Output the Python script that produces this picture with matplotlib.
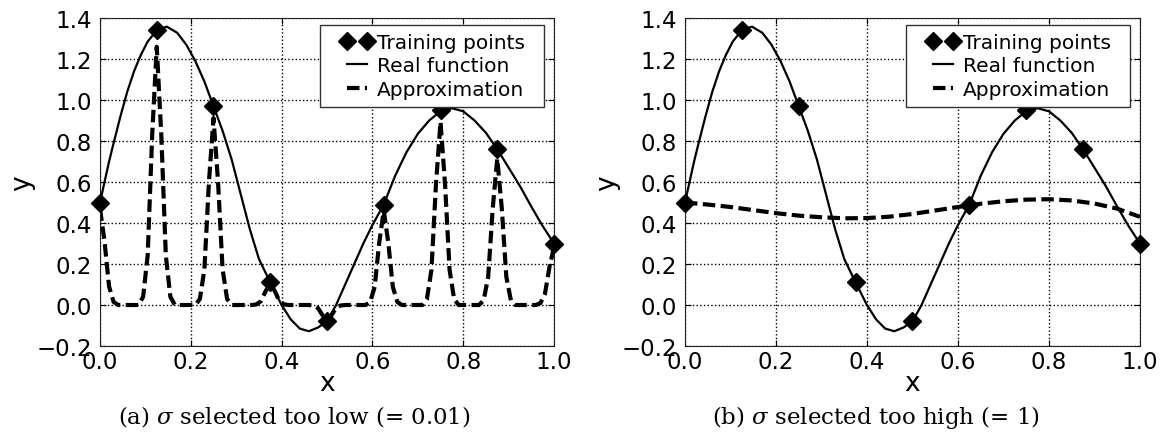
import numpy as np
import matplotlib
matplotlib.use("Agg")
import matplotlib.pyplot as plt
from matplotlib.patches import Rectangle
from matplotlib.transforms import IdentityTransform

# training samples
train_x = [0.0, 0.125, 0.25, 0.375, 0.5, 0.625, 0.75, 0.875, 1.0]
train_y = [0.50, 1.34, 0.97, 0.11, -0.08, 0.49, 0.95, 0.76, 0.30]

# real function, sampled
real_x = [0.000, 0.010, 0.020, 0.030, 0.045, 0.060, 0.075, 0.090, 0.105, 0.125,
          0.147, 0.170, 0.190, 0.210, 0.230, 0.250, 0.270, 0.290, 0.310, 0.330,
          0.350, 0.375, 0.400, 0.420, 0.440, 0.460, 0.480, 0.500, 0.520, 0.540,
          0.560, 0.580, 0.600, 0.625, 0.650, 0.675, 0.700, 0.725, 0.750, 0.775,
          0.800, 0.825, 0.850, 0.875, 0.900, 0.925, 0.950, 0.975, 1.000]
real_y = [0.500, 0.600, 0.700, 0.790, 0.920, 1.040, 1.140, 1.220, 1.285, 1.340,
          1.358, 1.328, 1.270, 1.190, 1.090, 0.970, 0.850, 0.710, 0.540, 0.370,
          0.225, 0.110, 0.000, -0.070, -0.115, -0.128, -0.110, -0.080, 0.000, 0.100,
          0.200, 0.300, 0.390, 0.490, 0.630, 0.745, 0.835, 0.900, 0.945, 0.960,
          0.945, 0.900, 0.840, 0.760, 0.670, 0.580, 0.480, 0.385, 0.300]

# sigma = 0.01: each training point gives a narrow bump
bump_offset = [-0.04, -0.03, -0.02, -0.01, 0.0, 0.01, 0.02, 0.03, 0.04]
bump_height = [0.0, 0.03, 0.18, 0.62, 0.94, 0.62, 0.18, 0.03, 0.0]

# sigma = 1: almost flat
wide_x = [0.0, 0.05, 0.1, 0.15, 0.2, 0.25, 0.3, 0.35, 0.4, 0.45, 0.5,
          0.55, 0.6, 0.65, 0.7, 0.75, 0.8, 0.85, 0.9, 0.95, 1.0]
wide_y = [0.500, 0.490, 0.478, 0.463, 0.448, 0.436, 0.428, 0.423, 0.424, 0.431, 0.444,
          0.461, 0.478, 0.494, 0.506, 0.514, 0.516, 0.510, 0.495, 0.470, 0.430]

captions = [r"(a) $\sigma$ selected too low (= 0.01)",
            r"(b) $\sigma$ selected too high (= 1)"]

narrow_x, narrow_y = [], []
for c, h in zip(train_x, train_y):
    for o, r in zip(bump_offset, bump_height):
        if 0.0 <= c + o <= 1.0:
            narrow_x.append(c + o)
            narrow_y.append(h * r)

plt.rcParams["mathtext.fontset"] = "dejavuserif"

fig = plt.figure(figsize=(11.6, 4.35), dpi=100)
axes = [fig.add_axes([0.0862, 0.2023, 0.3914, 0.754]),
        fig.add_axes([0.5905, 0.2023, 0.3922, 0.754])]
approx = [(narrow_x, narrow_y), (wide_x, wide_y)]
cap_x = [294 / 1160, 876 / 1160]

legends = []
for ax, (ax_x, ax_y), cap, cx in zip(axes, approx, captions, cap_x):
    ax.plot(train_x, train_y, "kD", ms=9.5, label="Training points", zorder=4, clip_on=False)
    ax.plot(real_x, real_y, "k-", lw=1.6, label="Real function", zorder=3)
    ax.plot(ax_x, ax_y, "k--", lw=3, dashes=(3, 1.3), label="Approximation", zorder=2)

    ax.set_xlim(0, 1)
    ax.set_ylim(-0.2, 1.4)
    ax.set_xticks(np.arange(0, 1.01, 0.2))
    ax.set_yticks(np.arange(-0.2, 1.41, 0.2))
    ax.set_xticklabels(["0.0", "0.2", "0.4", "0.6", "0.8", "1.0"])
    ax.set_yticklabels(["\u22120.2", "0.0", "0.2", "0.4", "0.6", "0.8", "1.0", "1.2", "1.4"])
    ax.tick_params(direction="in", top=True, right=True, length=4, labelsize=16.5)
    ax.tick_params(axis="x", pad=3)
    ax.tick_params(axis="y", pad=6)
    ax.grid(True, color="k", ls=":", lw=1)
    for s in ax.spines.values():
        s.set_color("#222222")
    ax.set_xlabel("x", fontsize=19, labelpad=-2)
    ax.set_ylabel("y", fontsize=19, labelpad=1)

    # legend without its own frame; a wider box is drawn behind it below
    leg = ax.legend(loc="upper right", bbox_to_anchor=(1 - 21 / 454, 1 - 7 / 328),
                    borderaxespad=0, numpoints=2, fontsize=14.5, frameon=False,
                    handlelength=1.6, handletextpad=0.2, labelspacing=0.22,
                    borderpad=0.4)
    leg.set_zorder(6)
    legends.append((ax, leg))

    fig.text(cx, 11 / 435, cap, ha="center", va="baseline", fontsize=16.5,
             family="DejaVu Serif")

fig.canvas.draw()
renderer = fig.canvas.get_renderer()
for ax, leg in legends:
    bb = leg.get_window_extent(renderer)
    box = Rectangle((bb.x0 - 13, bb.y0), bb.width + 24, bb.height,
                    transform=IdentityTransform(), facecolor="white",
                    edgecolor="#333333", lw=1, zorder=5, clip_on=False)
    ax.add_artist(box)

fig.savefig("out.png", dpi=100)
